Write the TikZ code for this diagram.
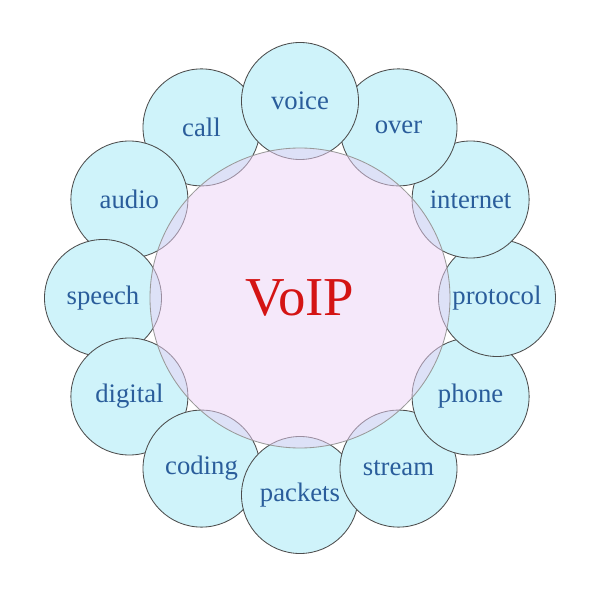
\documentclass[tikz,border=0pt]{standalone}
\usepackage{fontspec}
\setmainfont{Liberation Serif}

\definecolor{wordblue}{HTML}{2A5D9B}
\definecolor{bubble}{HTML}{CFF3FA}
\definecolor{hubpink}{HTML}{EBD1F5}
\definecolor{voipred}{HTML}{D41414}

\begin{document}
\begin{tikzpicture}[
  word/.style={circle, draw=black!70, line width=0.6pt, fill=bubble,
    minimum size=2.925cm, inner sep=0pt, text=wordblue,
    font=\fontsize{19}{19}\selectfont},
  hub/.style={circle, draw=black!40, line width=0.6pt, fill=hubpink,
    fill opacity=0.5, text opacity=1, minimum size=7.5cm, inner sep=0pt,
    text=voipred, font=\fontsize{39}{39}\selectfont}]

\useasboundingbox (0,0) rectangle (15,15);
\coordinate (mid) at (7.5,7.55);

% Nodes
  \foreach \ang/\word in {120/call, 150/audio, 180/speech, 210/digital,
      240/coding, 270/packets, 300/stream, 330/phone, 360/protocol,
      390/internet, 420/over, 450/voice}
    \node[word] (\word) at ([shift={(\ang:4.925)}]mid) {\word};

  \node[hub] (voip) at (mid) {VoIP};

\end{tikzpicture}
\end{document}
